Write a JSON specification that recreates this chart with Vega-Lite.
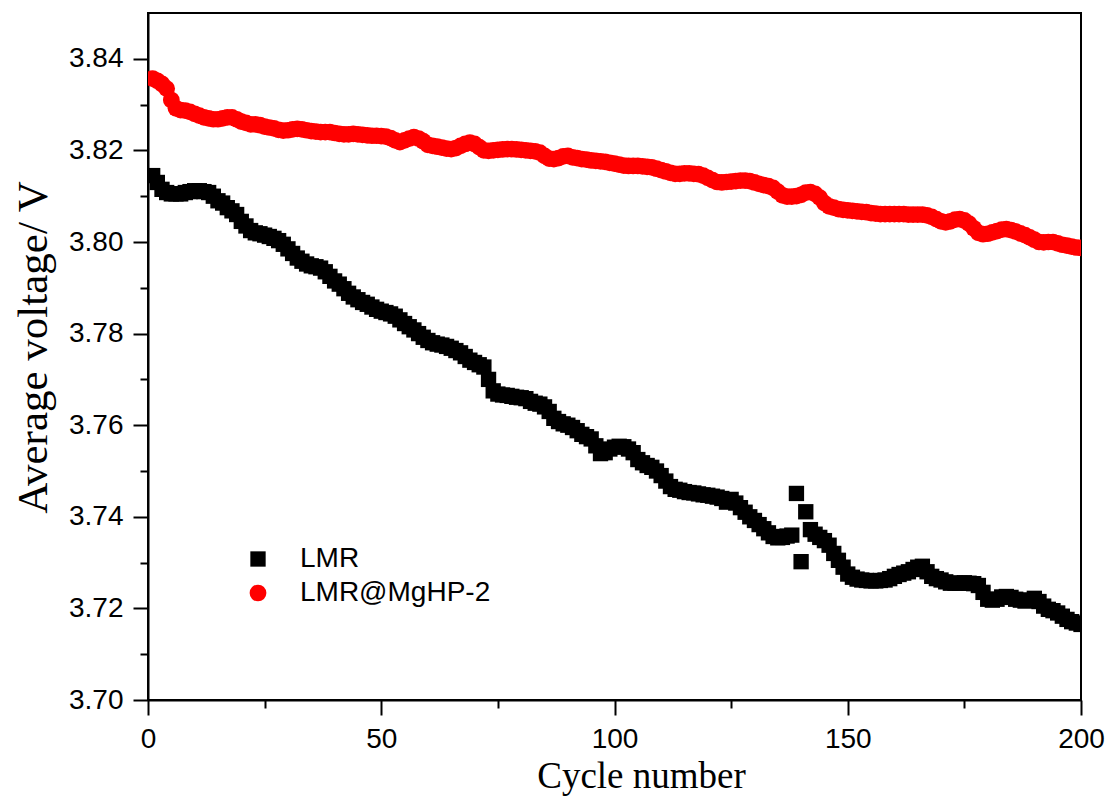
{
"$schema":"https://vega.github.io/schema/vega-lite/v6.json",
"width":933,"height":687,
"autosize":"none",
"padding":{"left":148,"top":13,"right":31,"bottom":98},
"background":"white",
"config":{"view":{"stroke":"black","strokeWidth":2}},
"data":{"values":[
{"x":1,"y":3.8145,"s":"LMR"},{"x":2,"y":3.8130,"s":"LMR"},{"x":3,"y":3.8115,"s":"LMR"},{"x":4,"y":3.8108,"s":"LMR"},{"x":5,"y":3.8105,"s":"LMR"},{"x":6,"y":3.8105,"s":"LMR"},{"x":7,"y":3.8105,"s":"LMR"},{"x":8,"y":3.8108,"s":"LMR"},{"x":9,"y":3.8110,"s":"LMR"},{"x":10,"y":3.8112,"s":"LMR"},
{"x":11,"y":3.8112,"s":"LMR"},{"x":12,"y":3.8110,"s":"LMR"},{"x":13,"y":3.8108,"s":"LMR"},{"x":14,"y":3.8100,"s":"LMR"},{"x":15,"y":3.8090,"s":"LMR"},{"x":16,"y":3.8085,"s":"LMR"},{"x":17,"y":3.8075,"s":"LMR"},{"x":18,"y":3.8068,"s":"LMR"},{"x":19,"y":3.8060,"s":"LMR"},{"x":20,"y":3.8045,"s":"LMR"},
{"x":21,"y":3.8035,"s":"LMR"},{"x":22,"y":3.8025,"s":"LMR"},{"x":23,"y":3.8020,"s":"LMR"},{"x":24,"y":3.8018,"s":"LMR"},{"x":25,"y":3.8015,"s":"LMR"},{"x":26,"y":3.8012,"s":"LMR"},{"x":27,"y":3.8008,"s":"LMR"},{"x":28,"y":3.8003,"s":"LMR"},{"x":29,"y":3.7995,"s":"LMR"},{"x":30,"y":3.7985,"s":"LMR"},
{"x":31,"y":3.7975,"s":"LMR"},{"x":32,"y":3.7965,"s":"LMR"},{"x":33,"y":3.7958,"s":"LMR"},{"x":34,"y":3.7952,"s":"LMR"},{"x":35,"y":3.7948,"s":"LMR"},{"x":36,"y":3.7946,"s":"LMR"},{"x":37,"y":3.7943,"s":"LMR"},{"x":38,"y":3.7935,"s":"LMR"},{"x":39,"y":3.7925,"s":"LMR"},{"x":40,"y":3.7915,"s":"LMR"},
{"x":41,"y":3.7908,"s":"LMR"},{"x":42,"y":3.7898,"s":"LMR"},{"x":43,"y":3.7888,"s":"LMR"},{"x":44,"y":3.7880,"s":"LMR"},{"x":45,"y":3.7874,"s":"LMR"},{"x":46,"y":3.7868,"s":"LMR"},{"x":47,"y":3.7864,"s":"LMR"},{"x":48,"y":3.7858,"s":"LMR"},{"x":49,"y":3.7853,"s":"LMR"},{"x":50,"y":3.7849,"s":"LMR"},
{"x":51,"y":3.7846,"s":"LMR"},{"x":52,"y":3.7843,"s":"LMR"},{"x":53,"y":3.7838,"s":"LMR"},{"x":54,"y":3.7830,"s":"LMR"},{"x":55,"y":3.7822,"s":"LMR"},{"x":56,"y":3.7815,"s":"LMR"},{"x":57,"y":3.7808,"s":"LMR"},{"x":58,"y":3.7800,"s":"LMR"},{"x":59,"y":3.7792,"s":"LMR"},{"x":60,"y":3.7785,"s":"LMR"},
{"x":61,"y":3.7780,"s":"LMR"},{"x":62,"y":3.7777,"s":"LMR"},{"x":63,"y":3.7775,"s":"LMR"},{"x":64,"y":3.7772,"s":"LMR"},{"x":65,"y":3.7768,"s":"LMR"},{"x":66,"y":3.7763,"s":"LMR"},{"x":67,"y":3.7758,"s":"LMR"},{"x":68,"y":3.7750,"s":"LMR"},{"x":69,"y":3.7742,"s":"LMR"},{"x":70,"y":3.7737,"s":"LMR"},
{"x":71,"y":3.7732,"s":"LMR"},{"x":72,"y":3.7727,"s":"LMR"},{"x":73,"y":3.7700,"s":"LMR"},{"x":74,"y":3.7675,"s":"LMR"},{"x":75,"y":3.7668,"s":"LMR"},{"x":76,"y":3.7666,"s":"LMR"},{"x":77,"y":3.7665,"s":"LMR"},{"x":78,"y":3.7663,"s":"LMR"},{"x":79,"y":3.7661,"s":"LMR"},{"x":80,"y":3.7660,"s":"LMR"},
{"x":81,"y":3.7658,"s":"LMR"},{"x":82,"y":3.7652,"s":"LMR"},{"x":83,"y":3.7648,"s":"LMR"},{"x":84,"y":3.7646,"s":"LMR"},{"x":85,"y":3.7640,"s":"LMR"},{"x":86,"y":3.7630,"s":"LMR"},{"x":87,"y":3.7615,"s":"LMR"},{"x":88,"y":3.7608,"s":"LMR"},{"x":89,"y":3.7603,"s":"LMR"},{"x":90,"y":3.7600,"s":"LMR"},
{"x":91,"y":3.7595,"s":"LMR"},{"x":92,"y":3.7588,"s":"LMR"},{"x":93,"y":3.7580,"s":"LMR"},{"x":94,"y":3.7575,"s":"LMR"},{"x":95,"y":3.7570,"s":"LMR"},{"x":96,"y":3.7555,"s":"LMR"},{"x":97,"y":3.7538,"s":"LMR"},{"x":98,"y":3.7540,"s":"LMR"},{"x":99,"y":3.7548,"s":"LMR"},{"x":100,"y":3.7552,"s":"LMR"},
{"x":101,"y":3.7554,"s":"LMR"},{"x":102,"y":3.7553,"s":"LMR"},{"x":103,"y":3.7548,"s":"LMR"},{"x":104,"y":3.7540,"s":"LMR"},{"x":105,"y":3.7525,"s":"LMR"},{"x":106,"y":3.7518,"s":"LMR"},{"x":107,"y":3.7512,"s":"LMR"},{"x":108,"y":3.7508,"s":"LMR"},{"x":109,"y":3.7500,"s":"LMR"},{"x":110,"y":3.7490,"s":"LMR"},
{"x":111,"y":3.7478,"s":"LMR"},{"x":112,"y":3.7466,"s":"LMR"},{"x":113,"y":3.7460,"s":"LMR"},{"x":114,"y":3.7458,"s":"LMR"},{"x":115,"y":3.7455,"s":"LMR"},{"x":116,"y":3.7453,"s":"LMR"},{"x":117,"y":3.7452,"s":"LMR"},{"x":118,"y":3.7450,"s":"LMR"},{"x":119,"y":3.7448,"s":"LMR"},{"x":120,"y":3.7447,"s":"LMR"},
{"x":121,"y":3.7445,"s":"LMR"},{"x":122,"y":3.7443,"s":"LMR"},{"x":123,"y":3.7440,"s":"LMR"},{"x":124,"y":3.7432,"s":"LMR"},{"x":125,"y":3.7438,"s":"LMR"},{"x":126,"y":3.7430,"s":"LMR"},{"x":127,"y":3.7420,"s":"LMR"},{"x":128,"y":3.7410,"s":"LMR"},{"x":129,"y":3.7400,"s":"LMR"},{"x":130,"y":3.7392,"s":"LMR"},
{"x":131,"y":3.7383,"s":"LMR"},{"x":132,"y":3.7374,"s":"LMR"},{"x":133,"y":3.7365,"s":"LMR"},{"x":134,"y":3.7357,"s":"LMR"},{"x":135,"y":3.7354,"s":"LMR"},{"x":136,"y":3.7355,"s":"LMR"},{"x":137,"y":3.7358,"s":"LMR"},{"x":138,"y":3.7360,"s":"LMR"},{"x":139,"y":3.7451,"s":"LMR"},{"x":140,"y":3.7302,"s":"LMR"},
{"x":141,"y":3.7411,"s":"LMR"},{"x":142,"y":3.7372,"s":"LMR"},{"x":143,"y":3.7362,"s":"LMR"},{"x":144,"y":3.7355,"s":"LMR"},{"x":145,"y":3.7348,"s":"LMR"},{"x":146,"y":3.7338,"s":"LMR"},{"x":147,"y":3.7320,"s":"LMR"},{"x":148,"y":3.7305,"s":"LMR"},{"x":149,"y":3.7290,"s":"LMR"},{"x":150,"y":3.7275,"s":"LMR"},
{"x":151,"y":3.7268,"s":"LMR"},{"x":152,"y":3.7264,"s":"LMR"},{"x":153,"y":3.7262,"s":"LMR"},{"x":154,"y":3.7261,"s":"LMR"},{"x":155,"y":3.7260,"s":"LMR"},{"x":156,"y":3.7260,"s":"LMR"},{"x":157,"y":3.7261,"s":"LMR"},{"x":158,"y":3.7262,"s":"LMR"},{"x":159,"y":3.7265,"s":"LMR"},{"x":160,"y":3.7270,"s":"LMR"},
{"x":161,"y":3.7274,"s":"LMR"},{"x":162,"y":3.7277,"s":"LMR"},{"x":163,"y":3.7280,"s":"LMR"},{"x":164,"y":3.7285,"s":"LMR"},{"x":165,"y":3.7290,"s":"LMR"},{"x":166,"y":3.7292,"s":"LMR"},{"x":167,"y":3.7280,"s":"LMR"},{"x":168,"y":3.7270,"s":"LMR"},{"x":169,"y":3.7265,"s":"LMR"},{"x":170,"y":3.7262,"s":"LMR"},
{"x":171,"y":3.7258,"s":"LMR"},{"x":172,"y":3.7255,"s":"LMR"},{"x":173,"y":3.7255,"s":"LMR"},{"x":174,"y":3.7255,"s":"LMR"},{"x":175,"y":3.7256,"s":"LMR"},{"x":176,"y":3.7255,"s":"LMR"},{"x":177,"y":3.7254,"s":"LMR"},{"x":178,"y":3.7250,"s":"LMR"},{"x":179,"y":3.7235,"s":"LMR"},{"x":180,"y":3.7220,"s":"LMR"},
{"x":181,"y":3.7218,"s":"LMR"},{"x":182,"y":3.7220,"s":"LMR"},{"x":183,"y":3.7225,"s":"LMR"},{"x":184,"y":3.7226,"s":"LMR"},{"x":185,"y":3.7224,"s":"LMR"},{"x":186,"y":3.7220,"s":"LMR"},{"x":187,"y":3.7218,"s":"LMR"},{"x":188,"y":3.7216,"s":"LMR"},{"x":189,"y":3.7218,"s":"LMR"},{"x":190,"y":3.7222,"s":"LMR"},
{"x":191,"y":3.7215,"s":"LMR"},{"x":192,"y":3.7205,"s":"LMR"},{"x":193,"y":3.7198,"s":"LMR"},{"x":194,"y":3.7195,"s":"LMR"},{"x":195,"y":3.7190,"s":"LMR"},{"x":196,"y":3.7183,"s":"LMR"},{"x":197,"y":3.7176,"s":"LMR"},{"x":198,"y":3.7171,"s":"LMR"},{"x":199,"y":3.7168,"s":"LMR"},{"x":200,"y":3.7165,"s":"LMR"},
{"x":1,"y":3.8357,"s":"LMR@MgHP-2"},{"x":2,"y":3.8352,"s":"LMR@MgHP-2"},{"x":3,"y":3.8345,"s":"LMR@MgHP-2"},{"x":4,"y":3.8335,"s":"LMR@MgHP-2"},{"x":5,"y":3.8310,"s":"LMR@MgHP-2"},{"x":6,"y":3.8292,"s":"LMR@MgHP-2"},{"x":7,"y":3.8288,"s":"LMR@MgHP-2"},{"x":8,"y":3.8287,"s":"LMR@MgHP-2"},{"x":9,"y":3.8284,"s":"LMR@MgHP-2"},{"x":10,"y":3.8280,"s":"LMR@MgHP-2"},
{"x":11,"y":3.8276,"s":"LMR@MgHP-2"},{"x":12,"y":3.8272,"s":"LMR@MgHP-2"},{"x":13,"y":3.8270,"s":"LMR@MgHP-2"},{"x":14,"y":3.8268,"s":"LMR@MgHP-2"},{"x":15,"y":3.8268,"s":"LMR@MgHP-2"},{"x":16,"y":3.8270,"s":"LMR@MgHP-2"},{"x":17,"y":3.8272,"s":"LMR@MgHP-2"},{"x":18,"y":3.8272,"s":"LMR@MgHP-2"},{"x":19,"y":3.8268,"s":"LMR@MgHP-2"},{"x":20,"y":3.8263,"s":"LMR@MgHP-2"},
{"x":21,"y":3.8260,"s":"LMR@MgHP-2"},{"x":22,"y":3.8257,"s":"LMR@MgHP-2"},{"x":23,"y":3.8257,"s":"LMR@MgHP-2"},{"x":24,"y":3.8255,"s":"LMR@MgHP-2"},{"x":25,"y":3.8252,"s":"LMR@MgHP-2"},{"x":26,"y":3.8250,"s":"LMR@MgHP-2"},{"x":27,"y":3.8248,"s":"LMR@MgHP-2"},{"x":28,"y":3.8245,"s":"LMR@MgHP-2"},{"x":29,"y":3.8243,"s":"LMR@MgHP-2"},{"x":30,"y":3.8244,"s":"LMR@MgHP-2"},
{"x":31,"y":3.8246,"s":"LMR@MgHP-2"},{"x":32,"y":3.8247,"s":"LMR@MgHP-2"},{"x":33,"y":3.8246,"s":"LMR@MgHP-2"},{"x":34,"y":3.8244,"s":"LMR@MgHP-2"},{"x":35,"y":3.8242,"s":"LMR@MgHP-2"},{"x":36,"y":3.8241,"s":"LMR@MgHP-2"},{"x":37,"y":3.8240,"s":"LMR@MgHP-2"},{"x":38,"y":3.8240,"s":"LMR@MgHP-2"},{"x":39,"y":3.8240,"s":"LMR@MgHP-2"},{"x":40,"y":3.8238,"s":"LMR@MgHP-2"},
{"x":41,"y":3.8236,"s":"LMR@MgHP-2"},{"x":42,"y":3.8235,"s":"LMR@MgHP-2"},{"x":43,"y":3.8235,"s":"LMR@MgHP-2"},{"x":44,"y":3.8236,"s":"LMR@MgHP-2"},{"x":45,"y":3.8235,"s":"LMR@MgHP-2"},{"x":46,"y":3.8234,"s":"LMR@MgHP-2"},{"x":47,"y":3.8233,"s":"LMR@MgHP-2"},{"x":48,"y":3.8232,"s":"LMR@MgHP-2"},{"x":49,"y":3.8232,"s":"LMR@MgHP-2"},{"x":50,"y":3.8231,"s":"LMR@MgHP-2"},
{"x":51,"y":3.8230,"s":"LMR@MgHP-2"},{"x":52,"y":3.8227,"s":"LMR@MgHP-2"},{"x":53,"y":3.8222,"s":"LMR@MgHP-2"},{"x":54,"y":3.8218,"s":"LMR@MgHP-2"},{"x":55,"y":3.8222,"s":"LMR@MgHP-2"},{"x":56,"y":3.8226,"s":"LMR@MgHP-2"},{"x":57,"y":3.8229,"s":"LMR@MgHP-2"},{"x":58,"y":3.8226,"s":"LMR@MgHP-2"},{"x":59,"y":3.8220,"s":"LMR@MgHP-2"},{"x":60,"y":3.8212,"s":"LMR@MgHP-2"},
{"x":61,"y":3.8210,"s":"LMR@MgHP-2"},{"x":62,"y":3.8208,"s":"LMR@MgHP-2"},{"x":63,"y":3.8206,"s":"LMR@MgHP-2"},{"x":64,"y":3.8204,"s":"LMR@MgHP-2"},{"x":65,"y":3.8203,"s":"LMR@MgHP-2"},{"x":66,"y":3.8205,"s":"LMR@MgHP-2"},{"x":67,"y":3.8210,"s":"LMR@MgHP-2"},{"x":68,"y":3.8214,"s":"LMR@MgHP-2"},{"x":69,"y":3.8217,"s":"LMR@MgHP-2"},{"x":70,"y":3.8214,"s":"LMR@MgHP-2"},
{"x":71,"y":3.8207,"s":"LMR@MgHP-2"},{"x":72,"y":3.8200,"s":"LMR@MgHP-2"},{"x":73,"y":3.8199,"s":"LMR@MgHP-2"},{"x":74,"y":3.8200,"s":"LMR@MgHP-2"},{"x":75,"y":3.8201,"s":"LMR@MgHP-2"},{"x":76,"y":3.8202,"s":"LMR@MgHP-2"},{"x":77,"y":3.8203,"s":"LMR@MgHP-2"},{"x":78,"y":3.8203,"s":"LMR@MgHP-2"},{"x":79,"y":3.8202,"s":"LMR@MgHP-2"},{"x":80,"y":3.8201,"s":"LMR@MgHP-2"},
{"x":81,"y":3.8200,"s":"LMR@MgHP-2"},{"x":82,"y":3.8199,"s":"LMR@MgHP-2"},{"x":83,"y":3.8198,"s":"LMR@MgHP-2"},{"x":84,"y":3.8195,"s":"LMR@MgHP-2"},{"x":85,"y":3.8188,"s":"LMR@MgHP-2"},{"x":86,"y":3.8182,"s":"LMR@MgHP-2"},{"x":87,"y":3.8181,"s":"LMR@MgHP-2"},{"x":88,"y":3.8183,"s":"LMR@MgHP-2"},{"x":89,"y":3.8187,"s":"LMR@MgHP-2"},{"x":90,"y":3.8188,"s":"LMR@MgHP-2"},
{"x":91,"y":3.8185,"s":"LMR@MgHP-2"},{"x":92,"y":3.8183,"s":"LMR@MgHP-2"},{"x":93,"y":3.8181,"s":"LMR@MgHP-2"},{"x":94,"y":3.8180,"s":"LMR@MgHP-2"},{"x":95,"y":3.8178,"s":"LMR@MgHP-2"},{"x":96,"y":3.8177,"s":"LMR@MgHP-2"},{"x":97,"y":3.8176,"s":"LMR@MgHP-2"},{"x":98,"y":3.8175,"s":"LMR@MgHP-2"},{"x":99,"y":3.8173,"s":"LMR@MgHP-2"},{"x":100,"y":3.8171,"s":"LMR@MgHP-2"},
{"x":101,"y":3.8169,"s":"LMR@MgHP-2"},{"x":102,"y":3.8167,"s":"LMR@MgHP-2"},{"x":103,"y":3.8166,"s":"LMR@MgHP-2"},{"x":104,"y":3.8166,"s":"LMR@MgHP-2"},{"x":105,"y":3.8166,"s":"LMR@MgHP-2"},{"x":106,"y":3.8165,"s":"LMR@MgHP-2"},{"x":107,"y":3.8164,"s":"LMR@MgHP-2"},{"x":108,"y":3.8163,"s":"LMR@MgHP-2"},{"x":109,"y":3.8160,"s":"LMR@MgHP-2"},{"x":110,"y":3.8157,"s":"LMR@MgHP-2"},
{"x":111,"y":3.8154,"s":"LMR@MgHP-2"},{"x":112,"y":3.8151,"s":"LMR@MgHP-2"},{"x":113,"y":3.8149,"s":"LMR@MgHP-2"},{"x":114,"y":3.8149,"s":"LMR@MgHP-2"},{"x":115,"y":3.8150,"s":"LMR@MgHP-2"},{"x":116,"y":3.8150,"s":"LMR@MgHP-2"},{"x":117,"y":3.8149,"s":"LMR@MgHP-2"},{"x":118,"y":3.8148,"s":"LMR@MgHP-2"},{"x":119,"y":3.8145,"s":"LMR@MgHP-2"},{"x":120,"y":3.8140,"s":"LMR@MgHP-2"},
{"x":121,"y":3.8135,"s":"LMR@MgHP-2"},{"x":122,"y":3.8131,"s":"LMR@MgHP-2"},{"x":123,"y":3.8130,"s":"LMR@MgHP-2"},{"x":124,"y":3.8131,"s":"LMR@MgHP-2"},{"x":125,"y":3.8132,"s":"LMR@MgHP-2"},{"x":126,"y":3.8133,"s":"LMR@MgHP-2"},{"x":127,"y":3.8134,"s":"LMR@MgHP-2"},{"x":128,"y":3.8134,"s":"LMR@MgHP-2"},{"x":129,"y":3.8133,"s":"LMR@MgHP-2"},{"x":130,"y":3.8130,"s":"LMR@MgHP-2"},
{"x":131,"y":3.8127,"s":"LMR@MgHP-2"},{"x":132,"y":3.8124,"s":"LMR@MgHP-2"},{"x":133,"y":3.8122,"s":"LMR@MgHP-2"},{"x":134,"y":3.8118,"s":"LMR@MgHP-2"},{"x":135,"y":3.8110,"s":"LMR@MgHP-2"},{"x":136,"y":3.8102,"s":"LMR@MgHP-2"},{"x":137,"y":3.8099,"s":"LMR@MgHP-2"},{"x":138,"y":3.8099,"s":"LMR@MgHP-2"},{"x":139,"y":3.8100,"s":"LMR@MgHP-2"},{"x":140,"y":3.8103,"s":"LMR@MgHP-2"},
{"x":141,"y":3.8108,"s":"LMR@MgHP-2"},{"x":142,"y":3.8109,"s":"LMR@MgHP-2"},{"x":143,"y":3.8105,"s":"LMR@MgHP-2"},{"x":144,"y":3.8097,"s":"LMR@MgHP-2"},{"x":145,"y":3.8085,"s":"LMR@MgHP-2"},{"x":146,"y":3.8078,"s":"LMR@MgHP-2"},{"x":147,"y":3.8075,"s":"LMR@MgHP-2"},{"x":148,"y":3.8072,"s":"LMR@MgHP-2"},{"x":149,"y":3.8070,"s":"LMR@MgHP-2"},{"x":150,"y":3.8069,"s":"LMR@MgHP-2"},
{"x":151,"y":3.8068,"s":"LMR@MgHP-2"},{"x":152,"y":3.8067,"s":"LMR@MgHP-2"},{"x":153,"y":3.8066,"s":"LMR@MgHP-2"},{"x":154,"y":3.8065,"s":"LMR@MgHP-2"},{"x":155,"y":3.8063,"s":"LMR@MgHP-2"},{"x":156,"y":3.8062,"s":"LMR@MgHP-2"},{"x":157,"y":3.8061,"s":"LMR@MgHP-2"},{"x":158,"y":3.8061,"s":"LMR@MgHP-2"},{"x":159,"y":3.8061,"s":"LMR@MgHP-2"},{"x":160,"y":3.8061,"s":"LMR@MgHP-2"},
{"x":161,"y":3.8061,"s":"LMR@MgHP-2"},{"x":162,"y":3.8061,"s":"LMR@MgHP-2"},{"x":163,"y":3.8060,"s":"LMR@MgHP-2"},{"x":164,"y":3.8060,"s":"LMR@MgHP-2"},{"x":165,"y":3.8060,"s":"LMR@MgHP-2"},{"x":166,"y":3.8060,"s":"LMR@MgHP-2"},{"x":167,"y":3.8058,"s":"LMR@MgHP-2"},{"x":168,"y":3.8055,"s":"LMR@MgHP-2"},{"x":169,"y":3.8050,"s":"LMR@MgHP-2"},{"x":170,"y":3.8045,"s":"LMR@MgHP-2"},
{"x":171,"y":3.8043,"s":"LMR@MgHP-2"},{"x":172,"y":3.8045,"s":"LMR@MgHP-2"},{"x":173,"y":3.8049,"s":"LMR@MgHP-2"},{"x":174,"y":3.8050,"s":"LMR@MgHP-2"},{"x":175,"y":3.8047,"s":"LMR@MgHP-2"},{"x":176,"y":3.8040,"s":"LMR@MgHP-2"},{"x":177,"y":3.8030,"s":"LMR@MgHP-2"},{"x":178,"y":3.8020,"s":"LMR@MgHP-2"},{"x":179,"y":3.8017,"s":"LMR@MgHP-2"},{"x":180,"y":3.8018,"s":"LMR@MgHP-2"},
{"x":181,"y":3.8021,"s":"LMR@MgHP-2"},{"x":182,"y":3.8024,"s":"LMR@MgHP-2"},{"x":183,"y":3.8027,"s":"LMR@MgHP-2"},{"x":184,"y":3.8028,"s":"LMR@MgHP-2"},{"x":185,"y":3.8026,"s":"LMR@MgHP-2"},{"x":186,"y":3.8023,"s":"LMR@MgHP-2"},{"x":187,"y":3.8019,"s":"LMR@MgHP-2"},{"x":188,"y":3.8015,"s":"LMR@MgHP-2"},{"x":189,"y":3.8010,"s":"LMR@MgHP-2"},{"x":190,"y":3.8005,"s":"LMR@MgHP-2"},
{"x":191,"y":3.8000,"s":"LMR@MgHP-2"},{"x":192,"y":3.7999,"s":"LMR@MgHP-2"},{"x":193,"y":3.8000,"s":"LMR@MgHP-2"},{"x":194,"y":3.8000,"s":"LMR@MgHP-2"},{"x":195,"y":3.7997,"s":"LMR@MgHP-2"},{"x":196,"y":3.7994,"s":"LMR@MgHP-2"},{"x":197,"y":3.7992,"s":"LMR@MgHP-2"},{"x":198,"y":3.7990,"s":"LMR@MgHP-2"},{"x":199,"y":3.7988,"s":"LMR@MgHP-2"},{"x":200,"y":3.7987,"s":"LMR@MgHP-2"}
]},
"mark":{"type":"point","filled":true,"opacity":1,"strokeWidth":0,"clip":true},
"encoding":{
"x":{"field":"x","type":"quantitative","scale":{"domain":[0,200],"nice":false,"zero":false},
"axis":{"title":"Cycle number","values":[0,25,50,75,100,125,150,175,200],
"labelExpr":"datum.value % 50 === 0 ? datum.label : ''",
"tickSize":{"condition":{"test":"datum.value % 50 === 0","value":15},"value":8},
"tickColor":"black","tickWidth":2,"domainColor":"black","domainWidth":2,"grid":false,
"labelFont":"Liberation Sans","labelFontSize":28,"labelColor":"black","labelPadding":10,"labelFlush":false,"labelOverlap":false,
"titleFont":"Liberation Serif","titleFontSize":37,"titleFontWeight":"normal","titleColor":"black","titlePadding":5,"titleX":493}},
"y":{"field":"y","type":"quantitative","scale":{"domain":[3.70,3.85],"nice":false,"zero":false},
"axis":{"title":"Average voltage/ V","values":[3.70,3.71,3.72,3.73,3.74,3.75,3.76,3.77,3.78,3.79,3.80,3.81,3.82,3.83,3.84],
"format":".2f","labelExpr":"round(datum.value*100) % 2 === 0 ? datum.label : ''",
"tickSize":{"condition":{"test":"round(datum.value*100) % 2 === 0","value":15},"value":8},
"tickColor":"black","tickWidth":2,"domainColor":"black","domainWidth":2,"grid":false,
"labelFont":"Liberation Sans","labelFontSize":28,"labelColor":"black","labelPadding":10,"labelFlush":false,"labelOverlap":false,
"titleFont":"Liberation Serif","titleFontSize":43,"titleFontWeight":"normal","titleColor":"black","titlePadding":13,"titleY":334}},
"color":{"field":"s","type":"nominal","scale":{"domain":["LMR","LMR@MgHP-2"],"range":["#000000","#ff0000"]},
"legend":{"title":null,"orient":"none","legendX":96,"legendY":532,"labelFont":"Liberation Sans","labelFontSize":28,"labelColor":"black","labelOffset":28,"symbolSize":245,"rowPadding":6,"symbolStrokeWidth":0,"labelLimit":400}},
"shape":{"field":"s","type":"nominal","scale":{"domain":["LMR","LMR@MgHP-2"],"range":["square","circle"]}},
"size":{"field":"s","type":"nominal","scale":{"domain":["LMR","LMR@MgHP-2"],"range":[235,280]}}
}
}
